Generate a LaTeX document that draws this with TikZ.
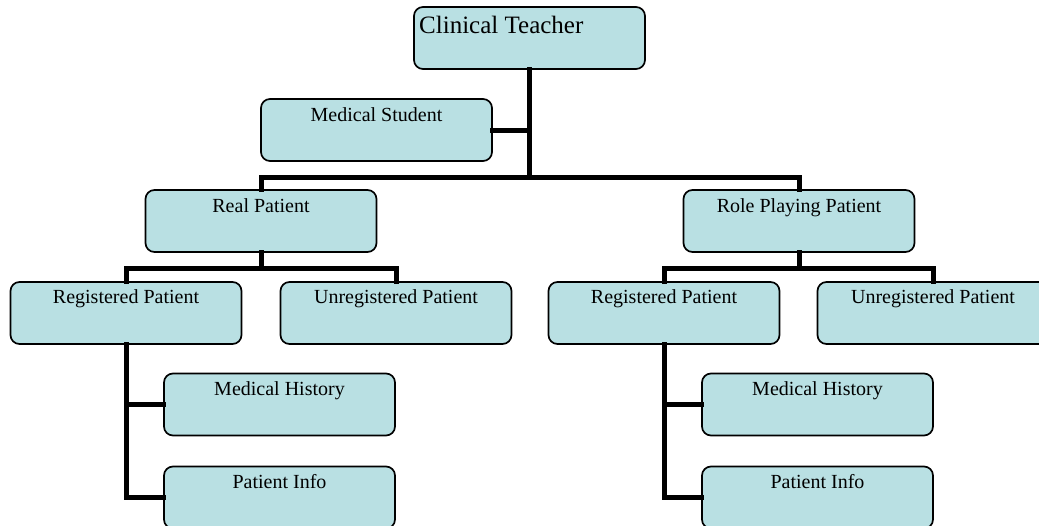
\documentclass[tikz,border=0pt]{standalone}
\usepackage{fontspec}
\setmainfont{Liberation Serif}
\definecolor{boxfill}{RGB}{185,224,227}
\begin{document}
\begin{tikzpicture}[x=1pt,y=-1pt,
  box/.style={draw=black, line width=1.7pt, fill=boxfill, rounded corners=9pt,
    minimum width=231pt, minimum height=62pt, inner sep=0pt},
  lbl/.style={anchor=base, font=\fontsize{20}{22}\selectfont, inner sep=0pt},
  conn/.style={line width=5pt, line join=miter, line cap=rect}]
\useasboundingbox (0,0) rectangle (1039,525);
\clip (0,0) rectangle (1039,525);
\fill[white] (0,0) rectangle (1039,525);
% coordinates for the bars
\coordinate (bar0) at (0,177);
\coordinate (bar1) at (0,268);
% boxes
\node[box] (ct) at (529.5,38) {};
\node[box] (ms) at (376.5,130) {};
\node[box] (rp) at (261,221) {};
\node[box] (rpp) at (799,221) {};
\node[box] (reg1) at (126,313) {};
\node[box] (unreg1) at (396,313) {};
\node[box] (reg2) at (664,313) {};
\node[box] (unreg2) at (933,313) {};
\node[box] (mh1) at (279.5,404.5) {};
\node[box] (pi1) at (279.5,497.5) {};
\node[box] (mh2) at (817.5,404.5) {};
\node[box] (pi2) at (817.5,497.5) {};
% connectors
\draw[conn] (ct.south) -- (ct.south |- bar0);
\draw[conn] (ms.east) -- (ms.east -| ct.south);
\draw[conn] (rp.north) -- (rp.north |- bar0) -- (rpp.north |- bar0) -- (rpp.north);
\draw[conn] (rp.south) -- (rp.south |- bar1);
\draw[conn] (reg1.north) -- (reg1.north |- bar1) -- (unreg1.north |- bar1) -- (unreg1.north);
\draw[conn] (rpp.south) -- (rpp.south |- bar1);
\draw[conn] (reg2.north) -- (reg2.north |- bar1) -- (unreg2.north |- bar1) -- (unreg2.north);
\draw[conn] (reg1.south) -- (reg1.south |- pi1.west) -- (pi1.west);
\draw[conn] (mh1.west -| reg1.south) -- (mh1.west);
\draw[conn] (reg2.south) -- (reg2.south |- pi2.west) -- (pi2.west);
\draw[conn] (mh2.west -| reg2.south) -- (mh2.west);
% labels
\node[anchor=base west, inner sep=0pt, font=\fontsize{25}{27}\selectfont] (tct) at (419,33) {Clinical Teacher};
\node[lbl] (tms) at ([yshift=-23pt]ms.north) {Medical Student};
\node[lbl] (trp) at ([yshift=-23.5pt]rp.north) {Real Patient};
\node[lbl] (trpp) at ([yshift=-23.5pt]rpp.north) {Role Playing Patient};
\node[lbl] (treg1) at ([yshift=-22.5pt]reg1.north) {Registered Patient};
\node[lbl] (tunreg1) at ([yshift=-22.5pt]unreg1.north) {Unregistered Patient};
\node[lbl] (treg2) at ([yshift=-22.5pt]reg2.north) {Registered Patient};
\node[lbl] (tunreg2) at ([yshift=-22.5pt]unreg2.north) {Unregistered Patient};
\node[lbl] (tmh1) at ([yshift=-22.5pt]mh1.north) {Medical History};
\node[lbl] (tpi1) at ([yshift=-22.5pt]pi1.north) {Patient Info};
\node[lbl] (tmh2) at ([yshift=-22.5pt]mh2.north) {Medical History};
\node[lbl] (tpi2) at ([yshift=-22.5pt]pi2.north) {Patient Info};
\end{tikzpicture}
\end{document}
